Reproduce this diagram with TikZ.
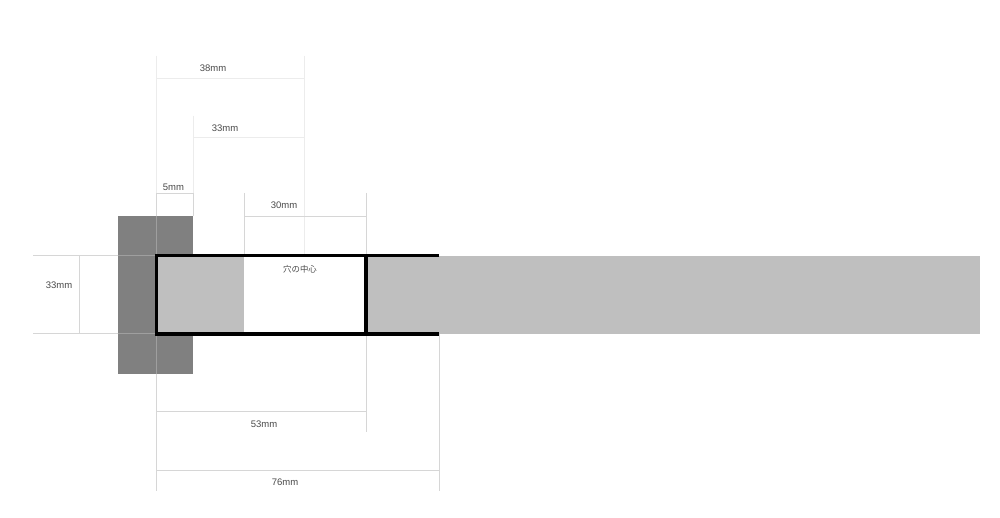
\documentclass[tikz,border=0pt]{standalone}
\usepackage{fontspec}
\setmainfont{Liberation Sans}
\newfontfamily\cjk{Noto Sans CJK JP}
\definecolor{darkblock}{HTML}{808080}
\definecolor{bargrey}{HTML}{BFBFBF}
\definecolor{dimline}{HTML}{D6D6D6}
\definecolor{faintline}{HTML}{ECECEC}
\definecolor{dimtext}{HTML}{4A4A4A}
\tikzset{
  dimrule/.style={draw=dimline,line width=0.9pt},
  faintrule/.style={draw=faintline,line width=0.9pt},
  onblock/.style={draw=white,draw opacity=0.25,line width=0.8pt},
  heavy/.style={draw=black,line width=3.3pt,line cap=butt,line join=miter},
  dimlabel/.style={text=dimtext,font=\fontsize{9.5}{9.5}\selectfont,inner sep=0pt},
  cjklabel/.style={text=dimtext,font=\cjk\fontsize{8.4}{8.4}\selectfont,inner sep=0pt},
}
\begin{document}
\begin{tikzpicture}[x=1pt,y=-1pt]
\useasboundingbox (0,0) rectangle (1000,518);
\fill[white] (0,0) rectangle (1000,518);
% filled parts
\fill[darkblock] (118,216) rectangle (193,373.5);
\fill[bargrey] (156,256) rectangle (244,333);
\fill[bargrey] (366,256) rectangle (980,333.5);
% named coordinates
\coordinate (Atop) at (156.5,56);
\coordinate (Abot) at (156.5,491);
\coordinate (A78) at (156.5,78);
\coordinate (A193) at (156.5,193.5);
\coordinate (A411) at (156.5,411.5);
\coordinate (A470) at (156.5,470);
\coordinate (Blocktop) at (156.5,216);
\coordinate (Blockbot) at (156.5,373.5);
\coordinate (Btop) at (193.5,116);
\coordinate (B137) at (193.5,137);
\coordinate (B193) at (193.5,193.5);
\coordinate (Bend) at (193.5,216);
\coordinate (Ctop) at (244.5,193);
\coordinate (C216) at (244.5,216);
\coordinate (Cend) at (244.5,255);
\coordinate (Dtop) at (304.5,56);
\coordinate (D78) at (304.5,78);
\coordinate (D137) at (304.5,137);
\coordinate (Dend) at (304.5,255);
\coordinate (Etop) at (366.5,193);
\coordinate (E216) at (366.5,216);
\coordinate (Eup) at (366.5,255);
\coordinate (Edown) at (366.5,334);
\coordinate (E411) at (366.5,411.5);
\coordinate (Ebot) at (366.5,432);
\coordinate (Fup) at (439.5,334);
\coordinate (F470) at (439.5,470);
\coordinate (Fbot) at (439.5,491);
\coordinate (Lt) at (33,255.5);
\coordinate (Lb) at (33,333.5);
\coordinate (Lm) at (118,255.5);
\coordinate (Ln) at (118,333.5);
\coordinate (Rt) at (156,255.5);
\coordinate (Rb) at (156,333.5);
\coordinate (Gt) at (79,255.5);
\coordinate (Gb) at (79,333.5);
% extension and dimension rules
\draw[faintrule] (Atop) -- (A193);
\draw[dimrule] (A193) -- (Blocktop);
\draw[onblock] (Blocktop) -- (Blockbot);
\draw[dimrule] (Blockbot) -- (Abot);
\draw[faintrule] (Btop) -- (B193);
\draw[dimrule] (B193) -- (Bend);
\draw[dimrule] (Ctop) -- (Cend);
\draw[faintrule] (Dtop) -- (Dend);
\draw[dimrule] (Etop) -- (Eup);
\draw[dimrule] (Edown) -- (Ebot);
\draw[dimrule] (Fup) -- (Fbot);
\draw[faintrule] (A78) -- (D78);
\draw[faintrule] (B137) -- (D137);
\draw[dimrule] (A193) -- (B193);
\draw[dimrule] (C216) -- (E216);
\draw[dimrule] (A411) -- (E411);
\draw[dimrule] (A470) -- (F470);
\draw[dimrule] (Lt) -- (Lm);
\draw[dimrule] (Lb) -- (Ln);
\draw[onblock] (Lm) -- (Rt);
\draw[onblock] (Ln) -- (Rb);
\draw[dimrule] (Gt) -- (Gb);
% heavy outline
\coordinate (Hta) at (439,255.7);
\coordinate (Htb) at (156.3,255.7);
\coordinate (Hbb) at (156.3,334);
\coordinate (Hba) at (439,334);
\coordinate (Hmt) at (366,255.7);
\coordinate (Hmb) at (366,334);
\draw[heavy] (Hta) -- (Htb) -- (Hbb) -- (Hba);
\draw[heavy] (Hmt) -- (Hmb);
% labels
\node[dimlabel] (l38) at (213,68) {38mm};
\node[dimlabel] (l33a) at (225,128) {33mm};
\node[dimlabel] (l5) at (173.5,187) {5mm};
\node[dimlabel] (l30) at (284,205) {30mm};
\node[dimlabel] (l33b) at (59,285.5) {33mm};
\node[dimlabel] (l53) at (264,424) {53mm};
\node[dimlabel] (l76) at (285,482) {76mm};
\node[cjklabel] (lc) at (300,269) {穴の中心};
\end{tikzpicture}
\end{document}
